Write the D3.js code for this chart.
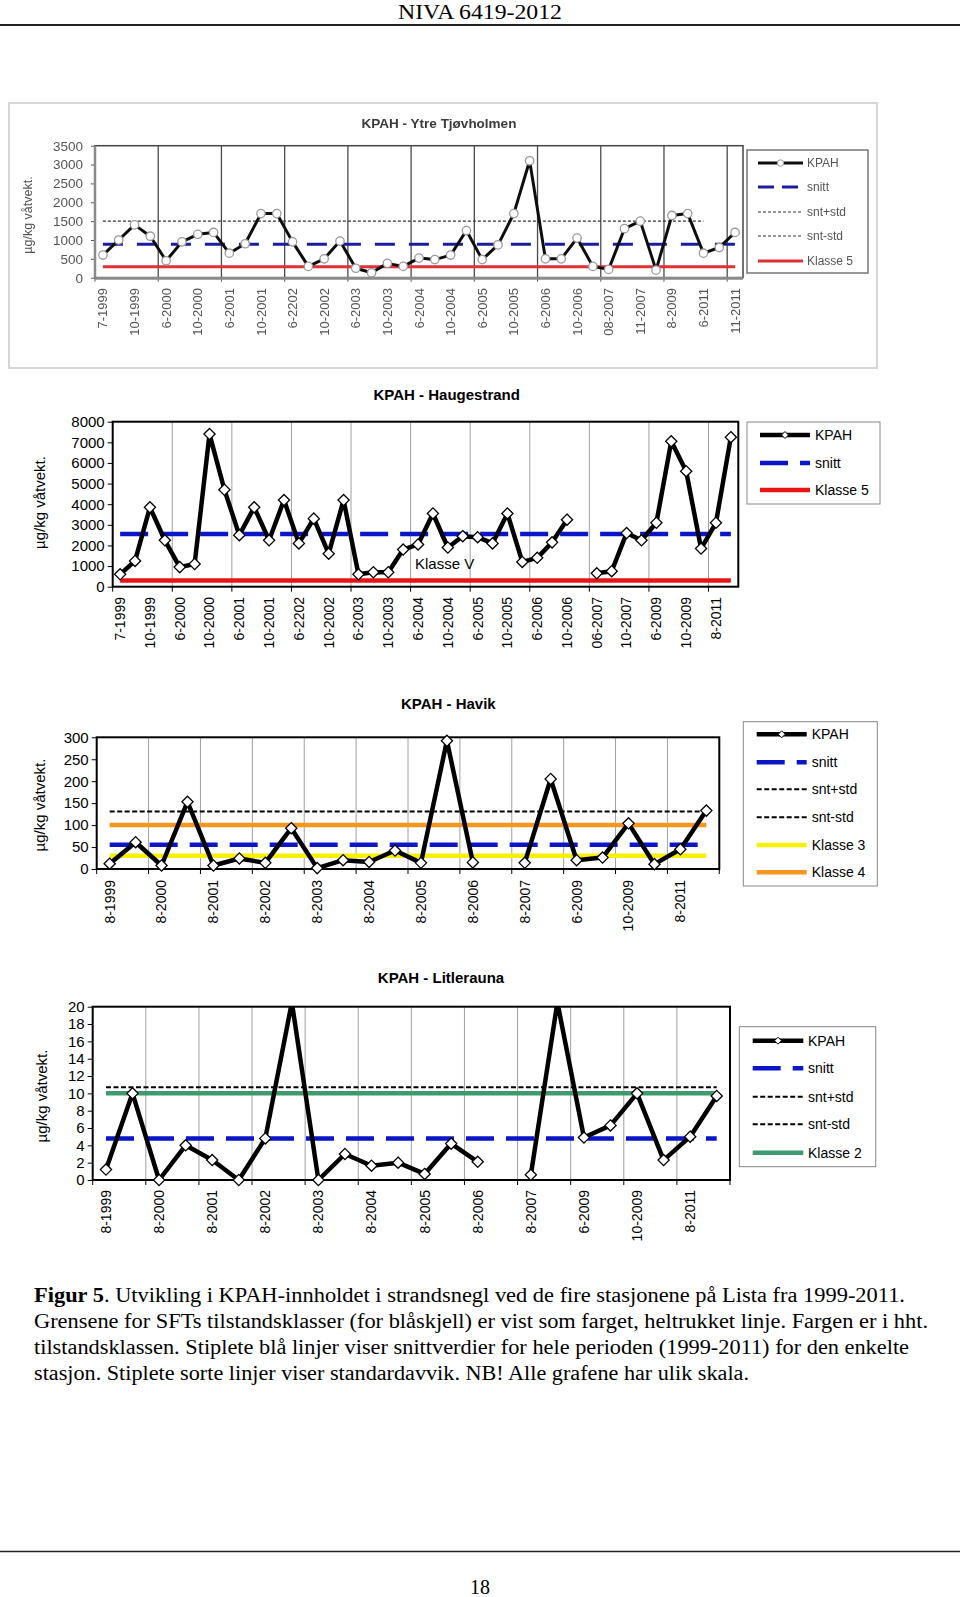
<!DOCTYPE html>
<html><head><meta charset="utf-8">
<script src="https://cdn.jsdelivr.net/npm/d3@7"></script>
<style>
html,body{margin:0;padding:0;background:#fff;}
svg{display:block;}
</style></head>
<body>
<svg id="page" width="960" height="1597"></svg>
<script>
// ---------------- DATA ----------------
// KPAH - Ytre Tjøvholmen (every 2nd category labelled)
const tjLabels = ["7-1999","10-1999","6-2000","10-2000","6-2001","10-2001","6-2202","10-2002","6-2003","10-2003","6-2004","10-2004","6-2005","10-2005","6-2006","10-2006","08-2007","11-2007","8-2009","6-2011","11-2011"];
const tjValues = [600,1000,1400,1100,450,950,1150,1200,650,900,1700,1700,950,300,500,970,250,130,380,300,520,480,600,1250,480,870,1700,3100,500,500,1050,300,220,1300,1500,200,1650,1700,650,800,1200];
const tjTicks = [0,500,1000,1500,2000,2500,3000,3500];
const tjSnitt = 890, tjSntPlus = 1500, tjSntMinus = 280, tjKlasse5 = 290;

// KPAH - Haugestrand
const hgLabels = ["7-1999","10-1999","6-2000","10-2000","6-2001","10-2001","6-2202","10-2002","6-2003","10-2003","6-2004","10-2004","6-2005","10-2005","6-2006","10-2006","06-2007","10-2007","6-2009","10-2009","8-2011"];
const hgValues = [600,1250,3850,2250,950,1100,7400,4700,2500,3850,2250,4200,2100,3300,1600,4200,600,700,700,1800,2050,3550,1900,2450,2400,2100,3550,1200,1400,2150,3250,null,650,750,2600,2250,3100,7050,5600,1850,3100,7250];
const hgTicks = [0,1000,2000,3000,4000,5000,6000,7000,8000];
const hgSnitt = 2550, hgKlasse5 = 300;

// KPAH - Havik
const hvLabels = ["8-1999","8-2000","8-2001","8-2002","8-2003","8-2004","8-2005","8-2006","8-2007","6-2009","10-2009","8-2011"];
const hvValues = [12,61,8,153,8,24,14,93,2,20,16,42,14,292,15,null,14,205,20,26,104,11,45,133];
const hvTicks = [0,50,100,150,200,250,300];
const hvSnitt = 55, hvSntPlus = 131, hvSntMinus = -21, hvKlasse3 = 30, hvKlasse4 = 100;

// KPAH - Litlerauna
const lrLabels = ["8-1999","8-2000","8-2001","8-2002","8-2003","8-2004","8-2005","8-2006","8-2007","6-2009","10-2009","8-2011"];
const lrValues = [1.2,10,0,4.0,2.3,0,4.8,20.5,0,3.0,1.65,2.0,0.7,4.2,2.1,null,0.6,20.5,4.9,6.3,10,2.3,5.0,9.7];
const lrTicks = [0,2,4,6,8,10,12,14,16,18,20];
const lrSnitt = 4.8, lrSntPlus = 10.7, lrSntMinus = -1.1, lrKlasse2 = 10;

const captionLines = [
  ["Figur 5", ". Utvikling i KPAH-innholdet i strandsnegl ved de fire stasjonene på Lista fra 1999-2011."],
  ["", "Grensene for SFTs tilstandsklasser (for blåskjell) er vist som farget, heltrukket linje. Fargen er i hht."],
  ["", "tilstandsklassen. Stiplete blå linjer viser snittverdier for hele perioden (1999-2011) for den enkelte"],
  ["", "stasjon. Stiplete sorte linjer viser standardavvik. NB! Alle grafene har ulik skala."]
];

// ---------------- DRAWING ----------------
const SANS = "'Liberation Sans', Arial, Helvetica, sans-serif";
const SERIF = "'Liberation Serif', 'Times New Roman', serif";
const BLUE = "#0a16c8", RED = "#e81414", ORANGE = "#f5961e", YELLOW = "#f7f000", GREEN = "#3f9b6f";

const svg = d3.select("#page");
const defs = svg.append("defs");
defs.append("filter").attr("id","soft").attr("x","-5%").attr("y","-5%").attr("width","110%").attr("height","110%")
  .append("feGaussianBlur").attr("stdDeviation",0.55);

function diamond(cx, cy, r){ return `M${cx},${cy-r}L${cx+r},${cy}L${cx},${cy+r}L${cx-r},${cy}Z`; }

let clipId = 0;
function chart(o){
  const st = o.style;
  const g = svg.append("g");
  if (o.filter) g.attr("filter", o.filter);
  const n = o.values.length;
  const x = d3.scaleBand().domain(d3.range(n)).range([o.left, o.right]);
  const yMax = o.ticks[o.ticks.length-1];
  const y = d3.scaleLinear().domain([o.ticks[0], yMax]).range([o.bottom, o.top]);
  const cx = i => x(i) + x.bandwidth()/2;
  const edge = i => i < n ? x(i) : o.right;

  g.append("rect").attr("x",o.left).attr("y",o.top).attr("width",o.right-o.left).attr("height",o.bottom-o.top).attr("fill","#fff");
  g.selectAll(null).data(d3.range(o.gridStep, n, o.gridStep)).join("line")
    .attr("x1", edge).attr("x2", edge).attr("y1", o.top).attr("y2", o.bottom)
    .attr("stroke", st.grid).attr("stroke-width", st.gridW);

  const ya = g.append("g").attr("transform",`translate(${o.left},0)`)
    .call(d3.axisLeft(y).tickValues(o.ticks).tickSize(st.tickLen).tickPadding(st.tickPad).tickFormat(d3.format("d")));
  ya.select(".domain").remove();
  ya.selectAll("line").attr("stroke", st.axis).attr("stroke-width", 1);
  ya.selectAll("text").attr("font-size", st.tickFs).attr("fill", st.text).attr("font-family", SANS);

  g.selectAll(null).data(d3.range(0, n+1, o.gridStep)).join("line")
    .attr("x1", edge).attr("x2", edge).attr("y1", o.bottom).attr("y2", o.bottom + st.tickLen)
    .attr("stroke", st.axis).attr("stroke-width", 1);
  g.selectAll(null).data(o.labels).join("text")
    .attr("transform", (d,j) => `translate(${cx(j*o.labelStep)},${o.xLabelTop}) rotate(-90)`)
    .attr("dy","0.35em").attr("text-anchor","end")
    .attr("font-size", st.xFs).attr("font-family", SANS).attr("fill", st.text).text(d => d);

  g.append("rect").attr("x",o.left).attr("y",o.top).attr("width",o.right-o.left).attr("height",o.bottom-o.top)
    .attr("fill","none").attr("stroke", st.border).attr("stroke-width", st.borderW);
  if (st.axisBand){
    g.append("line").attr("x1",o.left).attr("x2",o.right).attr("y1",o.bottom+0.5).attr("y2",o.bottom+0.5)
      .attr("stroke",st.axisBand).attr("stroke-width",3);
    g.append("line").attr("x1",o.left).attr("x2",o.left).attr("y1",o.top).attr("y2",o.bottom)
      .attr("stroke",st.axisBand).attr("stroke-width",2.5);
  }

  o.refs.forEach(r => {
    if (r.v < o.ticks[0] || r.v > yMax) return;
    g.append("line").attr("x1", cx(0)).attr("x2", cx(r.to)).attr("y1", y(r.v)).attr("y2", y(r.v))
      .attr("stroke", r.color).attr("stroke-width", r.w).attr("stroke-dasharray", r.dash || null);
  });

  const id = "clip" + (clipId++);
  defs.append("clipPath").attr("id", id).append("rect")
    .attr("x", o.left - 20).attr("y", o.top).attr("width", o.right - o.left + 40).attr("height", o.bottom - o.top + 30);
  const line = d3.line().defined(d => d != null).x((d,i) => cx(i)).y(d => y(d));
  g.append("path").attr("clip-path", `url(#${id})`).attr("d", line(o.values))
    .attr("fill","none").attr("stroke", st.kpah).attr("stroke-width", st.kpahW).attr("stroke-linejoin","round");
  const pts = o.values.map((v,i) => ({v,i})).filter(d => d.v != null && d.v <= yMax);
  if (o.marker === "circle"){
    g.selectAll(null).data(pts).join("circle").attr("cx", d => cx(d.i)).attr("cy", d => y(d.v)).attr("r", st.mR)
      .attr("fill","#fff").attr("stroke", st.mStroke).attr("stroke-width", st.mW);
  } else {
    g.selectAll(null).data(pts).join("path").attr("d", d => diamond(cx(d.i), y(d.v), st.mR))
      .attr("fill","#fff").attr("stroke", st.mStroke).attr("stroke-width", st.mW);
  }

  g.append("text").attr("x", o.title.x).attr("y", o.title.y).attr("text-anchor","middle")
    .attr("font-family", SANS).attr("font-weight","bold").attr("font-size", o.title.fs).attr("fill", st.titleFill).text(o.title.text);
  g.append("text").attr("transform",`translate(${o.ylab.x},${o.ylab.y}) rotate(-90)`).attr("dy","0.35em")
    .attr("text-anchor","middle").attr("font-family", SANS).attr("font-size", o.ylab.fs).attr("fill", st.text).text(o.ylab.text);
  (o.notes || []).forEach(t => g.append("text").attr("x", t.x).attr("y", t.y).attr("font-family", SANS)
    .attr("font-size", t.fs).attr("fill", st.text).text(t.text));

  const L = o.legend;
  g.append("rect").attr("x", L.box[0]).attr("y", L.box[1]).attr("width", L.box[2]-L.box[0]).attr("height", L.box[3]-L.box[1])
    .attr("fill","#fff").attr("stroke", L.stroke).attr("stroke-width", L.sw);
  L.items.forEach((it, k) => {
    const yy = L.ys[k];
    g.append("line").attr("x1", L.lineX[0]).attr("x2", L.lineX[1]).attr("y1", yy).attr("y2", yy)
      .attr("stroke", it.color).attr("stroke-width", it.w).attr("stroke-dasharray", it.dash || null);
    if (it.marker){
      const mx = (L.lineX[0] + L.lineX[1]) / 2;
      if (o.marker === "circle") g.append("circle").attr("cx", mx).attr("cy", yy).attr("r", L.mR)
        .attr("fill","#fff").attr("stroke", st.mStroke).attr("stroke-width", 1);
      else g.append("path").attr("d", diamond(mx, yy, L.mR)).attr("fill","#fff").attr("stroke","#000").attr("stroke-width",1);
    }
    g.append("text").attr("x", L.textX).attr("y", yy).attr("dy","0.35em").attr("font-family", SANS)
      .attr("font-size", L.fs).attr("fill", st.text).text(it.label);
  });
  return g;
}

const lowStyle = {grid:"#a0a0a0", gridW:1, axis:"#000", tickLen:5, tickPad:3, tickFs:15, xFs:14, text:"#000",
  border:"#000", borderW:2, kpah:"#000", kpahW:4.5, mR:5.6, mStroke:"#000", mW:1.3, titleFill:"#000"};
const topStyle = {grid:"#4a4a4a", gridW:1.3, axis:"#555", tickLen:4, tickPad:8, tickFs:13.5, xFs:13, text:"#555",
  border:"#444", borderW:1.5, axisBand:"#8a8a8a", kpah:"#111", kpahW:3, mR:4.2, mStroke:"#9a9a9a", mW:1.3, titleFill:"#3a3a3a"};

// ---- header ----
svg.append("text").attr("x",480).attr("y",18.5).attr("text-anchor","middle").attr("font-family",SERIF)
  .attr("font-size",20).attr("textLength",164).attr("lengthAdjust","spacingAndGlyphs").text("NIVA 6419-2012");
svg.append("line").attr("x1",0).attr("x2",960).attr("y1",25).attr("y2",25).attr("stroke","#222").attr("stroke-width",2);

// ---- chart 1: Ytre Tjøvholmen (embedded, soft picture) ----
const frame = svg.append("g").attr("filter","url(#soft)");
frame.append("rect").attr("x",9).attr("y",103).attr("width",868).attr("height",265).attr("fill","#fff")
  .attr("stroke","#d6d6d6").attr("stroke-width",2);

chart({
  values: tjValues, labels: tjLabels, labelStep: 2, gridStep: 4, ticks: tjTicks,
  left: 95, right: 743, top: 145.7, bottom: 277.7, xLabelTop: 288, style: topStyle, marker: "circle", filter: "url(#soft)",
  refs: [
    {v: tjSntMinus, to: 38, color: "#333", w: 1.2, dash: "3,2"},
    {v: tjSntPlus, to: 38, color: "#333", w: 1.2, dash: "3,2"},
    {v: tjSnitt, to: 40, color: "#1c1ca0", w: 3, dash: "20,14"},
    {v: tjKlasse5, to: 40, color: "#e03030", w: 3}
  ],
  title: {text: "KPAH - Ytre Tjøvholmen", x: 439, y: 128, fs: 13.5},
  ylab: {text: "µg/kg våtvekt.", x: 28, y: 215, fs: 12.5},
  legend: {box: [747,150,868,273], ys: [163,187,212,236,261], lineX: [758,803], textX: 807, fs: 12, mR: 3.2,
    stroke: "#777", sw: 1.5,
    items: [
      {label: "KPAH", color: "#111", w: 3, marker: true},
      {label: "snitt", color: "#1c1ca0", w: 3, dash: "16,8"},
      {label: "snt+std", color: "#333", w: 1.2, dash: "3,2"},
      {label: "snt-std", color: "#333", w: 1.2, dash: "3,2"},
      {label: "Klasse 5", color: "#e03030", w: 3}
    ]}
});

// ---- chart 2: Haugestrand ----
chart({
  values: hgValues, labels: hgLabels, labelStep: 2, gridStep: 4, ticks: hgTicks,
  left: 112.7, right: 738.3, top: 421.7, bottom: 586.7, xLabelTop: 597, style: lowStyle, marker: "diamond",
  refs: [
    {v: hgSnitt, to: 41, color: BLUE, w: 4.5, dash: "28,12"},
    {v: hgKlasse5, to: 41, color: RED, w: 4.5}
  ],
  title: {text: "KPAH - Haugestrand", x: 446.7, y: 400, fs: 15},
  ylab: {text: "µg/kg våtvekt.", x: 40, y: 502.5, fs: 15},
  notes: [{text: "Klasse V", x: 415, y: 569, fs: 15}],
  legend: {box: [747,422,880,504], ys: [435,463,490], lineX: [760,810], textX: 815, fs: 14, mR: 3.5,
    stroke: "#888", sw: 1,
    items: [
      {label: "KPAH", color: "#000", w: 4.5, marker: true},
      {label: "snitt", color: BLUE, w: 4.5, dash: "28,12"},
      {label: "Klasse 5", color: RED, w: 4.5}
    ]}
});

// ---- chart 3: Havik ----
chart({
  values: hvValues, labels: hvLabels, labelStep: 2, gridStep: 2, ticks: hvTicks,
  left: 96.7, right: 719.3, top: 737.3, bottom: 869, xLabelTop: 880, style: lowStyle, marker: "diamond",
  refs: [
    {v: hvSntMinus, to: 23, color: "#000", w: 2, dash: "5,2.5"},
    {v: hvSntPlus, to: 23, color: "#000", w: 2, dash: "5,2.5"},
    {v: hvKlasse4, to: 23, color: ORANGE, w: 4.5},
    {v: hvSnitt, to: 23, color: BLUE, w: 4.5, dash: "28,12"},
    {v: hvKlasse3, to: 23, color: YELLOW, w: 4.5}
  ],
  title: {text: "KPAH - Havik", x: 448.3, y: 709, fs: 15},
  ylab: {text: "µg/kg våtvekt.", x: 40, y: 805, fs: 15},
  legend: {box: [743.3,721.7,877.3,886], ys: [734.3,762.3,789.3,817.3,845,872.3], lineX: [756.7,806.7], textX: 811.7, fs: 14, mR: 3.5,
    stroke: "#888", sw: 1,
    items: [
      {label: "KPAH", color: "#000", w: 4.5, marker: true},
      {label: "snitt", color: BLUE, w: 4.5, dash: "28,12"},
      {label: "snt+std", color: "#000", w: 2, dash: "5,2.5"},
      {label: "snt-std", color: "#000", w: 2, dash: "5,2.5"},
      {label: "Klasse 3", color: YELLOW, w: 4.5},
      {label: "Klasse 4", color: ORANGE, w: 4.5}
    ]}
});

// ---- chart 4: Litlerauna ----
chart({
  values: lrValues, labels: lrLabels, labelStep: 2, gridStep: 2, ticks: lrTicks,
  left: 92.7, right: 730, top: 1006.7, bottom: 1180, xLabelTop: 1190, style: lowStyle, marker: "diamond",
  refs: [
    {v: lrSntMinus, to: 23, color: "#000", w: 2, dash: "5,2.5"},
    {v: lrSntPlus, to: 23, color: "#000", w: 2, dash: "5,2.5"},
    {v: lrKlasse2, to: 23, color: GREEN, w: 4.5},
    {v: lrSnitt, to: 23, color: BLUE, w: 4.5, dash: "28,12"}
  ],
  title: {text: "KPAH - Litlerauna", x: 441, y: 983.3, fs: 15},
  ylab: {text: "µg/kg våtvekt.", x: 42, y: 1096, fs: 15},
  legend: {box: [739.3,1026.7,875.7,1166.7], ys: [1040.7,1068.3,1096.7,1124.3,1152.7], lineX: [752.7,803.3], textX: 808, fs: 14, mR: 3.5,
    stroke: "#888", sw: 1,
    items: [
      {label: "KPAH", color: "#000", w: 4.5, marker: true},
      {label: "snitt", color: BLUE, w: 4.5, dash: "28,12"},
      {label: "snt+std", color: "#000", w: 2, dash: "5,2.5"},
      {label: "snt-std", color: "#000", w: 2, dash: "5,2.5"},
      {label: "Klasse 2", color: GREEN, w: 4.5}
    ]}
});

// ---- caption ----
const capWidths = [871, 894, 875, 715];
const capBase = [1302, 1328, 1354, 1380];
captionLines.forEach((ln, k) => {
  const t = svg.append("text").attr("x", 34).attr("y", capBase[k]).attr("font-family", SERIF).attr("font-size", 20)
    .attr("textLength", capWidths[k]).attr("lengthAdjust", "spacingAndGlyphs");
  if (ln[0]) t.append("tspan").attr("font-weight","bold").text(ln[0]);
  t.append("tspan").text(ln[1]);
});

// ---- footer ----
svg.append("line").attr("x1",0).attr("x2",960).attr("y1",1551.5).attr("y2",1551.5).attr("stroke","#222").attr("stroke-width",1.5);
svg.append("text").attr("x",480).attr("y",1594).attr("text-anchor","middle").attr("font-family",SERIF).attr("font-size",20).text("18");
</script>
</body></html>
